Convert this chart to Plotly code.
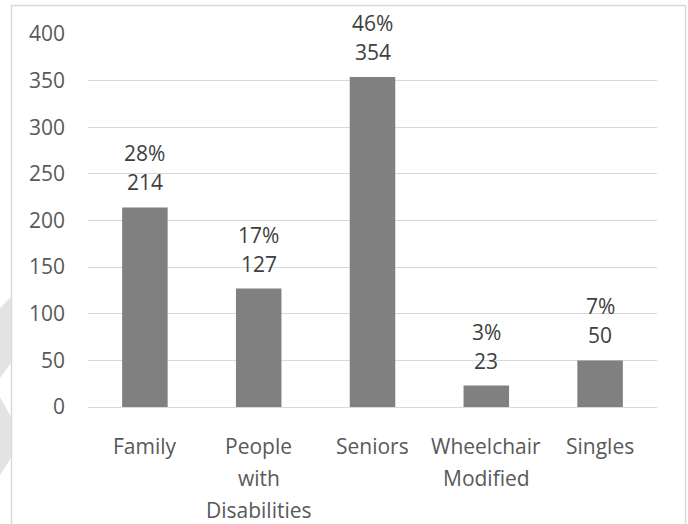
import plotly.graph_objects as go

# Units by housing type
categories = ["Family", "People with Disabilities", "Seniors", "Wheelchair Modified", "Singles"]
units = [214, 127, 354, 23, 50]
category_lines = [["Family"], ["People", "with", "Disabilities"], ["Seniors"],
                  ["Wheelchair", "Modified"], ["Singles"]]
y_ticks = [0, 50, 100, 150, 200, 250, 300, 350, 400]

W, H = 688, 524
ML, MR, MT, MB = 88, 31, 34, 117
PW, PH = W - ML - MR, H - MT - MB

FONT = "Open Sans"
FS = 21
AXIS_TXT = "#595959"
LABEL_TXT = "#404040"
GRID = "#d9d9d9"


def px(x):
    return (x - ML) / PW


def py(y):
    return (H - MB - y) / PH


total = sum(units)
shares = [f"{round(100 * u / total)}%" for u in units]

fig = go.Figure(go.Bar(
    x=categories, y=units, marker=dict(color="#808080", line=dict(width=0)),
    width=0.4, hoverinfo="skip",
))

annotations = []
for cat, u, s in zip(categories, units, shares):
    annotations.append(dict(x=cat, y=u, xref="x", yref="y", text=str(u), showarrow=False,
                            yanchor="middle", yshift=25, borderpad=0,
                            font=dict(family=FONT, size=FS, color=LABEL_TXT)))
    annotations.append(dict(x=cat, y=u, xref="x", yref="y", text=s, showarrow=False,
                            yanchor="middle", yshift=54, borderpad=0,
                            font=dict(family=FONT, size=FS, color=LABEL_TXT)))

# category names, one line each for wider line spacing
for cat, lines in zip(categories, category_lines):
    for i, line in enumerate(lines):
        annotations.append(dict(x=cat, y=0, xref="x", yref="paper", text=line, showarrow=False,
                                yanchor="middle", yshift=-(39 + 32 * i), borderpad=0,
                                font=dict(family=FONT, size=FS, color=AXIS_TXT)))

shapes = [
    # chart frame
    dict(type="rect", xref="paper", yref="paper",
         x0=px(11.5), x1=px(685.5), y0=py(540), y1=py(5.5),
         line=dict(color=GRID, width=1.5), fillcolor="rgba(0,0,0,0)", layer="below"),
]
# faint background mark along the left edge
for poly in ([(0, 308), (11, 297), (11, 363), (0, 378)],
             [(0, 397), (11, 417), (11, 458), (0, 475)]):
    path = "M " + " L ".join(f"{px(a):.5f} {py(b):.5f}" for a, b in poly) + " Z"
    shapes.append(dict(type="path", xref="paper", yref="paper", path=path,
                       fillcolor="#e3e3e3", line=dict(width=0), layer="below"))

fig.update_layout(
    width=W, height=H,
    margin=dict(l=ML, r=MR, t=MT, b=MB, pad=0),
    paper_bgcolor="white", plot_bgcolor="white",
    showlegend=False,
    bargap=0.6,
    font=dict(family=FONT, size=FS, color=AXIS_TXT),
    xaxis=dict(showticklabels=False, showgrid=False, zeroline=False, showline=False,
               ticks="", fixedrange=True),
    yaxis=dict(range=[0, 400], tickvals=y_ticks, showgrid=True, gridcolor=GRID, gridwidth=1.3,
               zeroline=True, zerolinecolor=GRID, zerolinewidth=1.3, showline=False,
               ticks="", ticklabelstandoff=22,
               tickfont=dict(family=FONT, size=FS, color=AXIS_TXT), fixedrange=True),
    annotations=annotations,
    shapes=shapes,
)

fig.write_html("out.html", config={"displayModeBar": False})
